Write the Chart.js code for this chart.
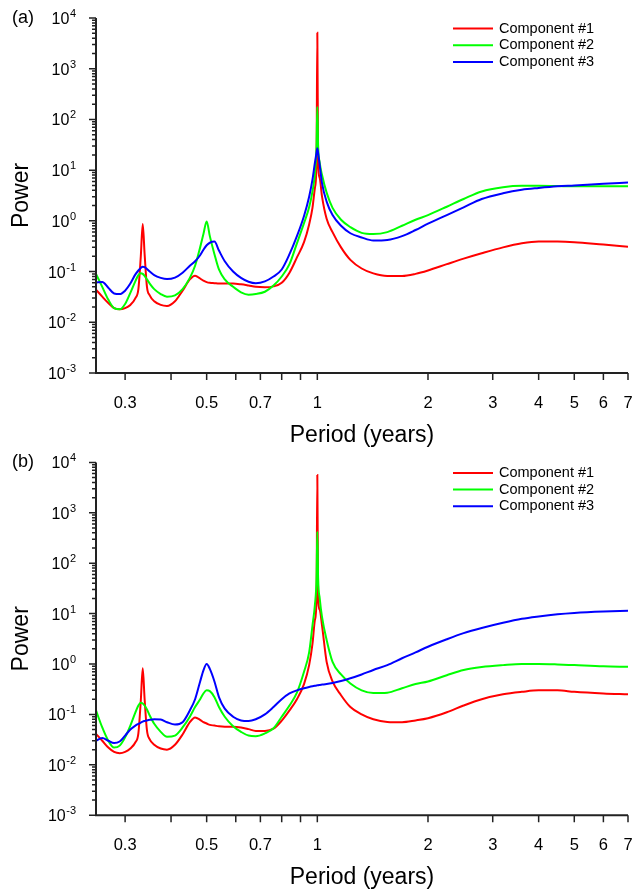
<!DOCTYPE html>
<html>
<head>
<meta charset="utf-8">
<script src="https://cdn.jsdelivr.net/npm/chart.js@4.4.1/dist/chart.umd.min.js"></script>
<style>
  body { margin: 0; background: #fff; }
  canvas { position: absolute; left: 0; }
</style>
</head>
<body>
<canvas id="chartA" width="634" height="456" style="top:0px"></canvas>
<canvas id="chartB" width="634" height="447" style="top:444px"></canvas>
<script>
// Power spectra of three components, panels (a) and (b)

// Period grid (years), shared by every curve
const periods = [
  0.25, 0.26, 0.27, 0.28, 0.29, 0.30, 0.31, 0.32, 0.326, 0.331,
  0.335, 0.339, 0.344, 0.35, 0.36, 0.375, 0.39, 0.41, 0.43, 0.45,
  0.465, 0.48, 0.49, 0.50, 0.51, 0.525, 0.54, 0.56, 0.59, 0.62,
  0.65, 0.68, 0.72, 0.76, 0.80, 0.84, 0.88, 0.92, 0.95, 0.97,
  0.985, 0.995, 1.0, 1.005, 1.015, 1.03, 1.06, 1.1, 1.16, 1.23,
  1.32, 1.42, 1.55, 1.7, 1.85, 2.0, 2.25, 2.5, 2.8, 3.2,
  3.6, 4.0, 4.5, 5.0, 6.0, 7.0
];

// Panel (a)
const powerA1 = [
  0.044, 0.032, 0.024, 0.019, 0.018, 0.019, 0.022, 0.03, 0.045, 0.2,
  0.87, 0.22, 0.05, 0.034, 0.026, 0.022, 0.021, 0.026, 0.042, 0.07,
  0.083, 0.073, 0.066, 0.062, 0.06, 0.059, 0.058, 0.058, 0.058, 0.056,
  0.053, 0.05, 0.049, 0.051, 0.06, 0.095, 0.19, 0.38, 0.85, 1.8,
  4.5, 15, 5100, 14, 7, 3, 1.1, 0.6, 0.3, 0.17,
  0.115, 0.092, 0.082, 0.082, 0.09, 0.105, 0.14, 0.18, 0.23, 0.30,
  0.36, 0.39, 0.39, 0.38, 0.34, 0.31
];
const powerA2 = [
  0.09, 0.05, 0.028, 0.019, 0.018, 0.023, 0.038, 0.065, 0.085, 0.093,
  0.09, 0.082, 0.07, 0.058, 0.045, 0.036, 0.032, 0.034, 0.045, 0.075,
  0.13, 0.3, 0.55, 0.97, 0.5, 0.22, 0.11, 0.07, 0.05, 0.039,
  0.035, 0.036, 0.04, 0.053, 0.08, 0.14, 0.36, 0.9, 1.85, 3.8,
  8.5, 30, 175, 30, 14, 8, 3.6, 1.8, 1.05, 0.75,
  0.58, 0.55, 0.6, 0.8, 1.05, 1.3, 1.9, 2.7, 3.8, 4.6,
  4.9, 4.9, 4.85, 4.8, 4.8, 4.8
];
const powerA3 = [
  0.061, 0.062, 0.048, 0.037, 0.036, 0.042, 0.058, 0.088, 0.105, 0.118,
  0.125, 0.122, 0.112, 0.1, 0.085, 0.075, 0.071, 0.076, 0.095, 0.13,
  0.16, 0.21, 0.27, 0.33, 0.37, 0.39, 0.26, 0.16, 0.1, 0.075,
  0.063, 0.059, 0.064, 0.08, 0.11, 0.22, 0.5, 1.25, 3, 6.5,
  14, 22, 27, 22, 12.5, 5.5, 2.4, 1.3, 0.8, 0.57,
  0.47, 0.41, 0.42, 0.5, 0.66, 0.88, 1.3, 1.85, 2.7, 3.5,
  4.1, 4.45, 4.8, 5.0, 5.4, 5.7
];

// Panel (b)
const powerB1 = [
  0.041, 0.03, 0.022, 0.018, 0.017, 0.018, 0.021, 0.028, 0.042, 0.19,
  0.82, 0.2, 0.048, 0.032, 0.025, 0.021, 0.02, 0.025, 0.04, 0.07,
  0.087, 0.078, 0.07, 0.066, 0.062, 0.06, 0.058, 0.057, 0.057, 0.055,
  0.051, 0.047, 0.047, 0.052, 0.075, 0.12, 0.2, 0.4, 0.95, 2.5,
  7.5, 20, 5600, 20, 12, 5.8, 1.1, 0.45, 0.24, 0.14,
  0.1, 0.08, 0.071, 0.07, 0.076, 0.084, 0.11, 0.15, 0.2, 0.25,
  0.28, 0.30, 0.30, 0.28, 0.26, 0.25
];
const powerB2 = [
  0.12, 0.055, 0.03, 0.022, 0.024, 0.035, 0.06, 0.11, 0.15, 0.17,
  0.165, 0.15, 0.125, 0.095, 0.065, 0.045, 0.036, 0.038, 0.055, 0.09,
  0.14, 0.2, 0.26, 0.3, 0.29, 0.22, 0.14, 0.09, 0.058, 0.045,
  0.038, 0.037, 0.042, 0.053, 0.09, 0.15, 0.27, 0.7, 1.7, 5.8,
  15, 50, 420, 50, 20, 8.5, 3, 1.1, 0.62, 0.41,
  0.3, 0.265, 0.27, 0.33, 0.4, 0.45, 0.6, 0.76, 0.87, 0.95,
  1.0, 1.0, 0.98, 0.95, 0.9, 0.88
];
const powerB3 = [
  0.03, 0.034, 0.03, 0.027, 0.029, 0.038, 0.05, 0.06, 0.065, 0.069,
  0.072, 0.074, 0.076, 0.078, 0.08, 0.079, 0.07, 0.063, 0.07, 0.12,
  0.2, 0.45, 0.75, 1.0, 0.8, 0.45, 0.22, 0.13, 0.09, 0.076,
  0.074, 0.08, 0.1, 0.14, 0.2, 0.26, 0.3, 0.33, 0.35, 0.362,
  0.37, 0.375, 0.38, 0.38, 0.385, 0.39, 0.4, 0.42, 0.46, 0.52,
  0.62, 0.76, 0.95, 1.3, 1.7, 2.2, 3.1, 4.1, 5.2, 6.6,
  7.9, 8.8, 9.7, 10.3, 11.0, 11.4
];

const seriesNames = ['Component #1', 'Component #2', 'Component #3'];
const seriesColors = ['#ff0000', '#00ff00', '#0000ff'];

// Axis ticks
const xTicks = [0.3, 0.4, 0.5, 0.6, 0.7, 0.8, 0.9, 1, 2, 3, 4, 5, 6, 7];
const xTickLabels = ['0.3', '', '0.5', '', '0.7', '', '', '1', '2', '3', '4', '5', '6', '7'];
const yExponents = [-3, -2, -1, 0, 1, 2, 3, 4];

const FONT = '"Liberation Sans", Arial, Helvetica, sans-serif';
const AXIS_COLOR = '#222';

// Axes, tick labels, titles and legend drawn on top of the library's scales
const nclAxes = {
    id: 'nclAxes',
    afterDraw(chart, args, opts) {
        const ctx = chart.ctx;
        const { left, right, top, bottom } = chart.chartArea;
        const xs = chart.scales.x;
        const ys = chart.scales.y;
        ctx.save();
        ctx.strokeStyle = AXIS_COLOR;
        ctx.fillStyle = '#000';

        // axis lines
        ctx.lineWidth = 2;
        ctx.beginPath();
        ctx.moveTo(left, top);
        ctx.lineTo(left, bottom);
        ctx.lineTo(right, bottom);
        ctx.stroke();

        // y ticks: long at decades, short in between
        ctx.lineWidth = 1.5;
        ctx.beginPath();
        yExponents.forEach(e => {
            const y = ys.getPixelForValue(Math.pow(10, e));
            ctx.moveTo(left - 7, y);
            ctx.lineTo(left, y);
            if (e < 4) {
                for (let m = 2; m <= 9; m++) {
                    const ym = ys.getPixelForValue(m * Math.pow(10, e));
                    ctx.moveTo(left - 4, ym);
                    ctx.lineTo(left, ym);
                }
            }
        });
        // x ticks
        xTicks.forEach(v => {
            const x = xs.getPixelForValue(v);
            ctx.moveTo(x, bottom);
            ctx.lineTo(x, bottom + 7);
        });
        ctx.stroke();

        // y tick labels 10^n
        yExponents.forEach(e => {
            const y = ys.getPixelForValue(Math.pow(10, e));
            ctx.font = '11px ' + FONT;
            const ex = String(e);
            const exW = ctx.measureText(ex).width;
            ctx.textAlign = 'left';
            ctx.textBaseline = 'alphabetic';
            ctx.fillText(ex, 76 - exW, y - 1);
            ctx.font = '16px ' + FONT;
            ctx.textAlign = 'right';
            ctx.fillText('10', 76 - exW - 0.5, y + 6);
        });

        // x tick labels
        ctx.font = '16.5px ' + FONT;
        ctx.textAlign = 'center';
        xTicks.forEach((v, i) => {
            if (xTickLabels[i]) ctx.fillText(xTickLabels[i], xs.getPixelForValue(v), bottom + 35);
        });

        // axis titles
        ctx.font = '23px ' + FONT;
        ctx.fillText('Period (years)', (left + right) / 2, bottom + 69);
        ctx.save();
        ctx.translate(28, (top + bottom) / 2);
        ctx.rotate(-Math.PI / 2);
        ctx.fillText('Power', 0, 0);
        ctx.restore();

        // panel label
        ctx.font = '18px ' + FONT;
        ctx.textAlign = 'left';
        ctx.fillText(opts.label, 12, top + 5);

        // legend
        ctx.font = '14.5px ' + FONT;
        ctx.textBaseline = 'middle';
        ctx.lineWidth = 2;
        chart.data.datasets.forEach((ds, i) => {
            const y = top + 10.5 + i * 16.7;
            ctx.strokeStyle = ds.borderColor;
            ctx.beginPath();
            ctx.moveTo(453, y);
            ctx.lineTo(493, y);
            ctx.stroke();
            ctx.fillText(ds.label, 499, y);
        });
        ctx.restore();
    }
};

function makeChart(canvasId, series, label, padding) {
    const ctx = document.getElementById(canvasId).getContext('2d');
    return new Chart(ctx, {
        type: 'line',
        data: {
            datasets: series.map((vals, i) => ({
                label: seriesNames[i],
                data: periods.map((p, k) => ({ x: p, y: vals[k] })),
                borderColor: seriesColors[i],
                borderWidth: 2,
                pointRadius: 0,
                fill: false,
                cubicInterpolationMode: 'monotone',
                order: 3 - i
            }))
        },
        options: {
            responsive: false,
            animation: false,
            devicePixelRatio: 1,
            layout: { padding: padding },
            plugins: {
                legend: { display: false },
                tooltip: { enabled: false },
                nclAxes: { label: label }
            },
            scales: {
                x: { type: 'logarithmic', min: 0.25, max: 7, display: false },
                y: { type: 'logarithmic', min: 1e-3, max: 1e4, display: false }
            }
        },
        plugins: [nclAxes]
    });
}

makeChart('chartA', [powerA1, powerA2, powerA3], '(a)', { left: 96, right: 6, top: 18, bottom: 83 });
makeChart('chartB', [powerB1, powerB2, powerB3], '(b)', { left: 96, right: 6, top: 18.4, bottom: 75.8 });
</script>
</body>
</html>
